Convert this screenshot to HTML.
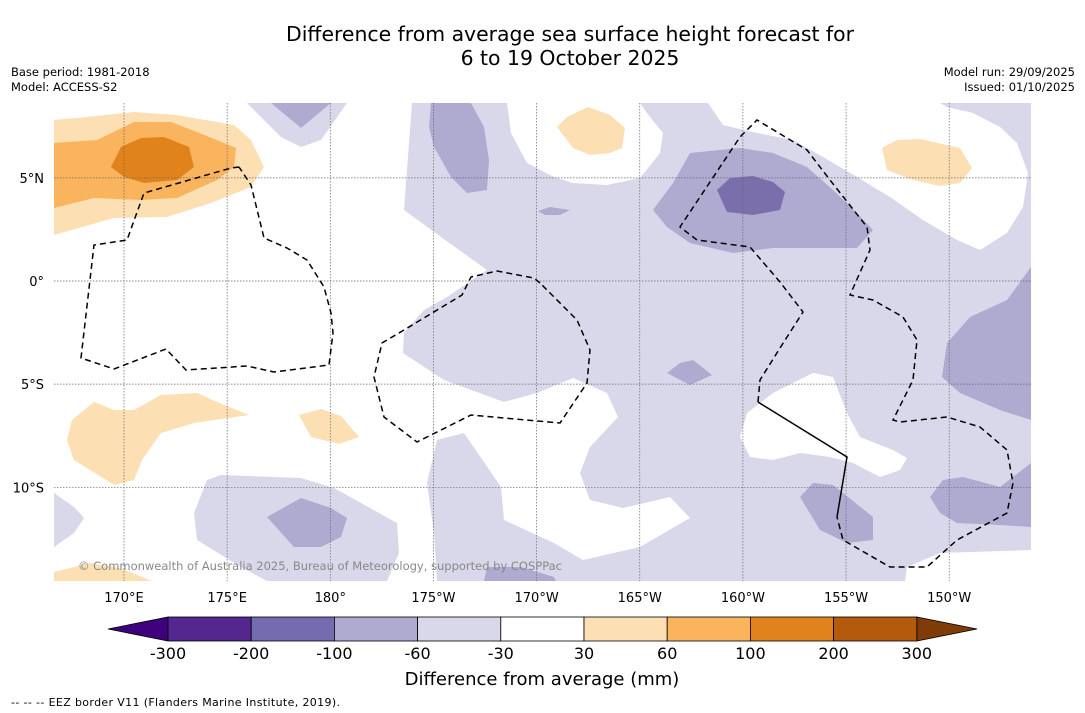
<!DOCTYPE html>
<html><head><meta charset="utf-8">
<style>
body{margin:0;background:#fff;font-family:"DejaVu Sans","Liberation Sans",sans-serif;}
#wrap{position:relative;width:1085px;height:713px;overflow:hidden;background:#fff;}
.t{position:absolute;color:#000;white-space:nowrap;}
svg text{font-family:"DejaVu Sans","Liberation Sans",sans-serif;}
</style></head><body>
<div id="wrap">
<div class="t" style="left:0;width:1140px;top:22px;text-align:center;font-size:20.4px;line-height:24px;">Difference from average sea surface height forecast for<br>6 to 19 October 2025</div>
<div class="t" style="left:11px;top:65px;font-size:11.5px;line-height:15px;">Base period: 1981-2018<br>Model: ACCESS-S2</div>
<div class="t" style="right:10px;top:65px;font-size:11.5px;line-height:15px;text-align:right;">Model run: 29/09/2025<br>Issued: 01/10/2025</div>
<svg id="svg" width="1085" height="713" style="position:absolute;left:0;top:0">
<defs><clipPath id="mc"><rect x="54" y="103" width="977" height="478"/></clipPath></defs>
<g clip-path="url(#mc)">
<rect x="54" y="103" width="977" height="478" fill="#fff"/>
<g fill="#d9d8ea">
<polygon points="412,103 1031,103 1031,581 437,581 434,533 427,483 437,440 464,433 501,487 504,520 554,543 583,560 640,547 690,518 670,497 623,508 590,500 580,473 590,447 618,417 607,393 573,378 537,393 504,402 444,380 403,353 404,333 424,310 447,297 487,270 441,237 404,210"/>
<polygon points="207,480 221,475 301,478 334,488 397,523 399,553 387,581 267,581 241,567 197,540 194,513"/>
<polygon points="54,493 74,507 84,518 74,533 54,547"/>
<polygon points="247,103 347,103 321,140 301,147 281,137"/>
</g>
<g fill="#fff">
<polygon points="507,103 511,133 527,163 554,177 573,183 607,185 640,178 660,153 663,133 650,117 640,103"/>
<polygon points="708,103 723,125 757,133 793,140 823,157 857,177 890,197 923,220 957,240 980,250 1007,233 1023,207 1028,173 1017,143 1000,127 973,113 947,107 940,103"/>
<polygon points="740,437 747,413 773,393 813,373 833,377 847,413 860,437 893,450 907,458 900,470 880,477 853,463 830,457 800,453 773,460 750,457"/>
<polygon points="907,567 940,553 1031,550 1031,581 905,581"/>
</g>
<g fill="#aeaad0">
<polygon points="267,517 301,498 331,508 347,518 341,537 321,547 294,547"/>
<polygon points="271,103 331,103 301,128"/>
<polygon points="431,103 471,103 484,127 489,160 487,190 467,193 451,177 434,147 429,127"/>
<polygon points="538,211 550,207 570,210 560,215 545,215"/>
<polygon points="653,210 673,183 690,153 740,148 773,153 807,167 833,190 857,213 873,230 857,248 773,248 733,253 690,243 667,227"/>
<polygon points="667,373 680,363 693,360 712,375 690,385"/>
<polygon points="1031,267 1007,300 970,317 947,343 942,377 960,393 1000,410 1031,420"/>
<polygon points="930,497 943,480 963,477 1000,487 1031,463 1031,527 1000,525 957,523 940,513"/>
<polygon points="800,497 813,483 833,485 873,517 873,540 847,543 820,530"/>
<polygon points="484,581 487,567 521,567 554,577 556,581"/>
</g>
<polygon fill="#7b6fab" points="717,190 730,178 753,176 773,182 785,192 780,210 753,215 727,212"/>
<g fill="#fddfb4">
<polygon points="54,120 87,117 134,112 177,115 234,125 251,140 264,167 251,187 211,203 167,217 114,218 54,235"/>
<polygon points="67,440 72,420 94,402 114,410 134,410 161,395 197,393 217,402 249,415 194,423 161,433 142,460 134,480 114,485 74,460"/>
<polygon points="299,415 321,409 341,416 359,437 339,444 311,437"/>
<polygon points="557,127 567,117 588,107 610,115 625,128 622,148 610,153 590,155 573,148"/>
<polygon points="882,148 897,140 920,139 960,148 972,168 960,183 940,186 913,180 887,170"/>
<polygon points="54,572 90,563 120,568 152,581 54,581"/>
</g>
<polygon fill="#fbb45e" points="54,143 97,140 134,122 171,122 197,132 236,148 234,167 217,180 177,198 141,200 94,198 54,208"/>
<polygon fill="#e0831a" points="111,167 121,147 141,138 164,137 189,147 194,167 177,180 144,183 124,177"/>
<g id="grid" stroke="#666" stroke-width="0.7" stroke-dasharray="1.5,1.5"></g>
<g fill="none" stroke="#000" stroke-width="1.5" stroke-dasharray="6,4">
<polyline points="239,167 231,168 144,193 127,240 94,245 81,358 114,369 166,349 186,370 247,366 274,372 329,365 333,333 331,313 324,287 307,260 287,248 264,238 251,185 239,167"/>
<polyline points="540,283 534,278 497,271 471,277 462,295 404,330 382,343 374,377 384,417 417,442 471,415 504,418 560,423 587,383 590,350 577,320 540,283"/>
<polyline points="758,402 760,380 780,348 803,312 780,282 750,247 697,240 680,227 740,137 757,120 807,150 830,180 867,227 870,250 850,295 873,300 903,317 917,340 913,380 893,420 900,422 947,417 980,427 1007,450 1013,483 1007,513 957,540 927,567 890,567 843,540 837,517"/>
</g>
<polyline fill="none" stroke="#000" stroke-width="1.5" points="758,402 847,457 837,517"/>
<text x="78" y="570" font-size="11.5" fill="#888" textLength="484">© Commonwealth of Australia 2025, Bureau of Meteorology, supported by COSPPac</text>
</g>
<g id="axes" font-size="13" fill="#000"></g>
<g id="cbar"></g>
<text x="542" y="685" font-size="18" text-anchor="middle">Difference from average (mm)</text>
<text x="11" y="706" font-size="11" textLength="329">--  --  -- EEZ border V11 (Flanders Marine Institute, 2019).</text>
</svg>
</div>
<script>
const lonLabels=["170°E","175°E","180°","175°W","170°W","165°W","160°W","155°W","150°W"];
const lonValues=[170,175,180,185,190,195,200,205,210];
const latLabels=["5°N","0°","5°S","10°S"];
const latValues=[5,0,-5,-10];
const levels=[-300,-200,-100,-60,-30,30,60,100,200,300];
const levelColors=["#54278f","#756bb1","#aeaad0","#d9d8ea","#ffffff","#fddfb4","#fbb45e","#e0831a","#b35a0c"];
const NS="http://www.w3.org/2000/svg";
const xLon=v=>124+(v-170)*20.63;
const yLat=v=>281-v*20.63;
const grid=document.getElementById('grid'),axes=document.getElementById('axes'),cb=document.getElementById('cbar');
function mk(tag,attrs,parent){const e=document.createElementNS(NS,tag);for(const k in attrs)e.setAttribute(k,attrs[k]);parent.appendChild(e);return e;}
lonValues.forEach((v,i)=>{
 const l=mk('line',{x1:xLon(v),x2:xLon(v),y1:103,y2:581},grid);
 
 
 const t=mk('text',{x:xLon(v),y:602,'text-anchor':'middle'},axes);t.textContent=lonLabels[i];
 
 
});
latValues.forEach((v,i)=>{
 const l=mk('line',{x1:54,x2:1031,y1:yLat(v),y2:yLat(v)},grid);
 
 
 const t=mk('text',{x:44,y:yLat(v)+5,'text-anchor':'end'},axes);t.textContent=latLabels[i];
 
 
});
const cx0=168,cw=83.2,cy=617,ch=24;
const lt=mk('polygon',{points:`${cx0},${cy} ${cx0},${cy+ch} 108,${cy+ch/2}`,fill:'#3f007d',stroke:'#000','stroke-width':0.8},cb);


const xr=cx0+cw*levelColors.length;
const rt=mk('polygon',{points:`${xr},${cy} ${xr},${cy+ch} 977,${cy+ch/2}`,fill:'#7f3b08',stroke:'#000','stroke-width':0.8},cb);


levelColors.forEach((c,i)=>{
 const r=mk('rect',{x:cx0+i*cw,y:cy,width:cw,height:ch,fill:c,stroke:'#000','stroke-width':0.8},cb);
 
 
});
levels.forEach((v,i)=>{
 const t=mk('text',{x:cx0+i*cw,y:659,'text-anchor':'middle','font-size':16},cb);t.textContent=v;
 
 
});
</script>
</body></html>
